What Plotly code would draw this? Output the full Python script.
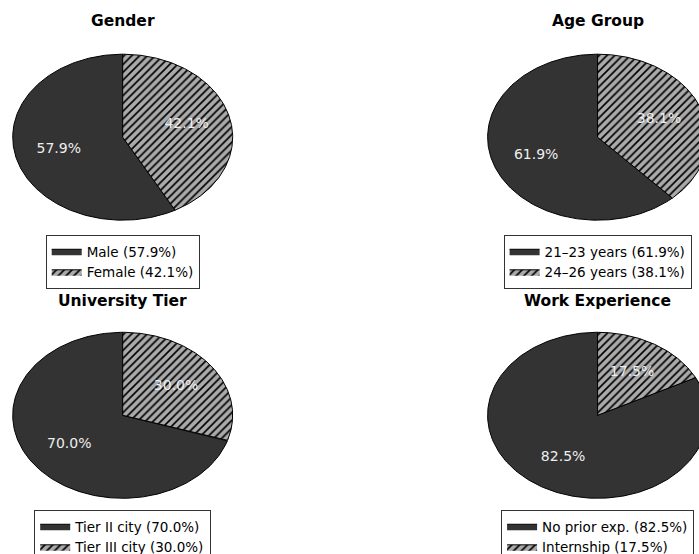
import numpy as np
import plotly.graph_objects as go

W, H = 699, 554
FONT = "DejaVu Sans"

titles = ["Gender", "Age Group", "University Tier", "Work Experience"]
categories = [
    ["Male", "Female"],
    ["21–23 years", "24–26 years"],
    ["Tier II city", "Tier III city"],
    ["No prior exp.", "Internship"],
]
shares = [
    [57.9, 42.1],
    [61.9, 38.1],
    [70.0, 30.0],
    [82.5, 17.5],
]

# panel geometry in pixels: pie centres, radii, title rows, legend tops
centres = [(122.7, 137.2), (597.6, 137.2), (122.7, 415.3), (597.6, 415.3)]
RX, RY = 110.0, 83.0
title_y = [21.5, 21.5, 300.5, 300.5]
legend_top = [235, 235, 510, 510]

DARK = "#333333"
LIGHT = "#aaaaaa"
PAD = 1.02

fig = go.Figure()
layout = dict(
    width=W, height=H,
    margin=dict(l=0, r=0, t=0, b=0, autoexpand=False),
    paper_bgcolor="white", plot_bgcolor="white",
    font=dict(family=FONT, color="black"),
    annotations=[],
    showlegend=True,
)

for i, (title, cats, vals, (cx, cy)) in enumerate(zip(titles, categories, shares, centres)):
    sfx = "" if i == 0 else str(i + 1)
    xa, ya, lg = "x" + sfx, "y" + sfx, "legend" + sfx

    # axes sized so that the unit circle becomes the pie ellipse
    xlo = max(0.0, (cx - PAD * RX) / W)
    xhi = min(1.0, (cx + PAD * RX) / W)
    ytop = cy - PAD * RY
    ybot = cy + PAD * RY
    layout["xaxis" + sfx] = dict(
        domain=[xlo, xhi], range=[(xlo * W - cx) / RX, (xhi * W - cx) / RX],
        visible=False, fixedrange=True, anchor=ya,
    )
    layout["yaxis" + sfx] = dict(
        domain=[1 - ybot / H, 1 - ytop / H], range=[-PAD, PAD],
        visible=False, fixedrange=True, anchor=xa,
    )

    start = 90.0
    lx, ly, ltxt = [], [], []
    for j, (cat, v) in enumerate(zip(cats, vals)):
        end = start + 360.0 * v / 100.0
        t = np.radians(np.linspace(start, end, 240))
        px = np.concatenate([[0.0], np.cos(t), [0.0]])
        py = np.concatenate([[0.0], np.sin(t), [0.0]])
        wedge = dict(
            x=px, y=py, mode="lines", fill="toself",
            line=dict(color="black", width=1),
            name=f"{cat} ({v:.1f}%)",
            xaxis=xa, yaxis=ya, legend=lg, hoverinfo="skip",
        )
        if j == 0:
            wedge["fillcolor"] = DARK
        else:
            wedge["fillcolor"] = LIGHT
            wedge["fillpattern"] = dict(
                shape="/", fgcolor="black", bgcolor=LIGHT,
                size=5.5, solidity=0.3, fillmode="replace",
            )
        fig.add_trace(go.Scatter(**wedge))

        mid = np.radians((start + end) / 2)
        lx.append(0.6 * np.cos(mid))
        ly.append(0.6 * np.sin(mid))
        ltxt.append(f"{v:.1f}%")
        start = end

    fig.add_trace(go.Scatter(
        x=lx, y=ly, mode="text", text=ltxt,
        textfont=dict(family=FONT, size=14, color="#eeeeee"),
        xaxis=xa, yaxis=ya, showlegend=False, hoverinfo="skip",
    ))

    layout["annotations"].append(dict(
        text=title, x=cx / W, y=1 - title_y[i] / H,
        xref="paper", yref="paper", xanchor="center", yanchor="middle",
        showarrow=False, font=dict(family=FONT, size=15.5, weight="bold", color="black"),
    ))

    layout[lg] = dict(
        x=cx / W, y=1 - legend_top[i] / H, xanchor="center", yanchor="top",
        bgcolor="white", bordercolor="#333333", borderwidth=1,
        font=dict(family=FONT, size=13.5, color="black"),
        itemclick=False, itemdoubleclick=False,
    )

fig.update_layout(**layout)
fig.write_html("out.html")
